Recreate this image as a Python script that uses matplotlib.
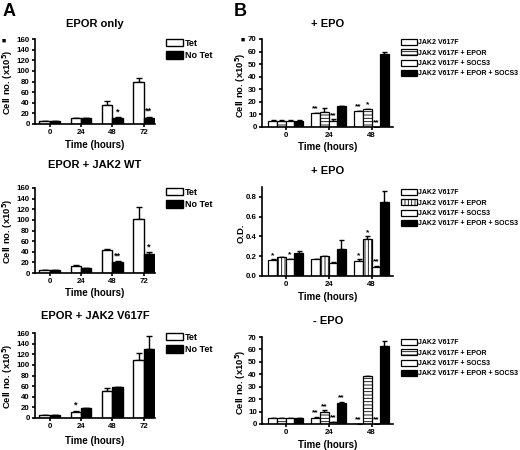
import matplotlib
matplotlib.use("Agg")
import matplotlib.pyplot as plt
import numpy as np

plt.rcParams['font.family'] = ['Liberation Sans', 'DejaVu Sans']
plt.rcParams['font.weight'] = 'bold'
plt.rcParams['hatch.linewidth'] = 0.6

# ---------------- data ----------------
a_times = ["0", "24", "48", "72"]
a_series = ["Tet", "No Tet"]
a_titles = ["EPOR only", "EPOR + JAK2 WT", "EPOR + JAK2 V617F"]

a1_tet = [5, 11, 35, 80]
a1_tet_err = [0.5, 1, 8, 7]
a1_notet = [5, 11, 11, 12]
a1_notet_err = [0.5, 0.5, 2, 2]

a2_tet = [5, 13, 44, 102]
a2_tet_err = [0.5, 2, 2, 22]
a2_notet = [5, 9, 21, 36]
a2_notet_err = [0.5, 0.5, 1, 3]

a3_tet = [5, 12, 51, 109]
a3_tet_err = [0.5, 2, 5, 14]
a3_notet = [5, 18, 58, 129]
a3_notet_err = [0.5, 1, 1, 25]

a1_stars = [[None, None, None, None], [None, None, "*", "**"]]
a2_stars = [[None, None, None, None], [None, None, "**", "*"]]
a3_stars = [[None, "*", None, None], [None, None, None, None]]

b_times = ["0", "24", "48"]
b_series = ["JAK2 V617F", "JAK2 V617F + EPOR", "JAK2 V617F + SOCS3", "JAK2 V617F + EPOR + SOCS3"]
b_titles = ["+ EPO", "+ EPO", "- EPO"]

b1_vals = [[5, 11, 12.5], [5, 12, 14], [5, 5, 0], [5, 16.5, 58]]
b1_err = [[0.3, 0.5, 0.5], [0.3, 3.5, 0.7], [0.3, 1.0, 0], [0.3, 0.3, 2]]
b1_stars = [[None, "**", "**"], [None, None, "*"], [None, "**", "**"], [None, None, None]]

b2_vals = [[0.16, 0.17, 0.15], [0.19, 0.20, 0.37], [0.17, 0.13, 0.09], [0.23, 0.27, 0.75]]
b2_err = [[0.01, 0.005, 0.02], [0.005, 0.005, 0.03], [0.005, 0.01, 0.01], [0.02, 0.09, 0.11]]
b2_stars = [["*", None, "*"], [None, None, "*"], ["*", None, "**"], [None, None, None]]

b3_vals = [[5, 5, 0], [5, 10, 38.5], [5, 1.5, 0], [5, 17, 63]]
b3_err = [[0.2, 0.5, 0], [0.2, 1.0, 0.5], [0.2, 0.3, 0], [0.2, 1.0, 4]]
b3_stars = [[None, "**", "**"], [None, "**", None], [None, "**", "**"], [None, "**", None]]

# ---------------- figure ----------------
W, H = 520, 450
fig = plt.figure(figsize=(W / 100, H / 100), dpi=100)


def px_axes(l, r, t, b):
    return fig.add_axes([l / W, 1 - b / H, (r - l) / W, (b - t) / H])


def ftext(x, y, s, **kw):
    fig.text(x / W, 1 - y / H, s, **kw)


def style_axes(ax):
    for s in ['top', 'right']:
        ax.spines[s].set_visible(False)
    for s in ['left', 'bottom']:
        ax.spines[s].set_linewidth(1.2)
    ax.tick_params(axis='both', direction='out', length=2.5, width=1.2, labelsize=5.7, pad=1.2)
    for lab in ax.get_xticklabels() + ax.get_yticklabels():
        lab.set_fontweight('bold')


# ---------- panel A ----------
a_data = [
    (a1_tet, a1_tet_err, a1_notet, a1_notet_err, a1_stars),
    (a2_tet, a2_tet_err, a2_notet, a2_notet_err, a2_stars),
    (a3_tet, a3_tet_err, a3_notet, a3_notet_err, a3_stars),
]
a_tops = [39, 188, 333]
a_bots = [124, 273, 418]
a_title_y = [24, 165, 316]
a_time_y = [145, 293, 441]
a_leg_y = [39, 188, 333]

for i in range(3):
    tet, tet_e, nt, nt_e, stars = a_data[i]
    ax = px_axes(35, 155, a_tops[i], a_bots[i])
    x = np.arange(len(a_times))
    w = 0.33
    vals = [tet, nt]
    errs = [tet_e, nt_e]
    colors = ['white', 'black']
    handles = []
    for k in range(2):
        xs = x + (k - 0.5) * w
        h = ax.bar(xs, vals[k], w, color=colors[k], edgecolor='black', linewidth=1.0,
                   label=a_series[k], zorder=2)
        handles.append(h)
        ax.errorbar(xs, vals[k], yerr=[np.zeros(len(xs)), errs[k]], fmt='none',
                    ecolor='black', elinewidth=1.0, capsize=2, capthick=1.0, zorder=1)
        for j in range(len(xs)):
            if stars[k][j]:
                ax.text(xs[j], vals[k][j] + errs[k][j] + 1, stars[k][j], ha='center',
                        va='bottom', fontsize=6.5, fontweight='bold')
    ax.set_xlim(-0.47, 3.36)
    ax.set_ylim(0, 160)
    ax.set_yticks(np.arange(0, 161, 20))
    ax.set_xticks(x)
    ax.set_xticklabels(a_times)
    style_axes(ax)
    leg = ax.legend(handles=handles, loc='upper left', bbox_to_anchor=(166 / W, 1 - a_leg_y[i] / H),
                    bbox_transform=fig.transFigure, frameon=False, fontsize=6.5,
                    handlelength=1.9, handleheight=0.85, handletextpad=0.2, labelspacing=0.35,
                    borderpad=0, borderaxespad=0)
    for t in leg.get_texts():
        t.set_fontweight('bold')
    ftext(95, a_title_y[i], a_titles[i], ha='center', va='center', fontsize=8, fontweight='bold')
    ftext(95, a_time_y[i], "Time (hours)", ha='center', va='center', fontsize=7, fontweight='bold')
    ftext(8, (a_tops[i] + a_bots[i]) / 2 + 1, r"Cell no. (x10$^{\mathbf{5}}$)", ha='center', va='center',
          rotation=90, fontsize=6.8, fontweight='bold')

# ---------- panel B ----------
b_data = [
    (b1_vals, b1_err, b1_stars, 70, 10, '-----', "Cell no. (x10$^{\\mathbf{5}}$)"),
    (b2_vals, b2_err, b2_stars, 0.9, 0.2, '|||||', "O.D."),
    (b3_vals, b3_err, b3_stars, 70, 10, '-----', "Cell no. (x10$^{\\mathbf{5}}$)"),
]
b_tops = [39, 187, 337]
b_bots = [127, 276, 424]
b_title_y = [24, 171, 321]
b_time_y = [147, 297, 445]
b_leg_y = [39, 189, 339]

for i in range(3):
    vals, errs, stars, ymax, step, hatch2, ylab = b_data[i]
    ax = px_axes(262, 393, b_tops[i], b_bots[i])
    x = np.arange(len(b_times))
    w = 0.2
    colors = ['white', 'white', 'white', 'black']
    hatches = [None, hatch2, None, None]
    handles = []
    for k in range(4):
        xs = x + (k - 1.5) * w
        h = ax.bar(xs, vals[k], w, color=colors[k], edgecolor='black', linewidth=0.9,
                   hatch=hatches[k], label=b_series[k], zorder=2)
        handles.append(h)
        ax.errorbar(xs, vals[k], yerr=[np.zeros(len(xs)), errs[k]], fmt='none',
                    ecolor='black', elinewidth=1.0, capsize=1.8, capthick=1.0, zorder=1)
        for j in range(len(xs)):
            if stars[k][j]:
                ax.text(xs[j], vals[k][j] + errs[k][j] + ymax * 0.005, stars[k][j], ha='center',
                        va='bottom', fontsize=6, fontweight='bold')
    ax.set_xlim(-0.55, 2.5)
    ax.set_ylim(0, ymax)
    if step == 0.2:
        ax.set_yticks(np.arange(0, 0.81, 0.2))
        ax.set_yticklabels(["0.0", "0.2", "0.4", "0.6", "0.8"])
    else:
        ax.set_yticks(np.arange(0, 71, 10))
    ax.set_xticks(x)
    ax.set_xticklabels(b_times)
    style_axes(ax)
    leg = ax.legend(handles=handles, loc='upper left', bbox_to_anchor=(401 / W, 1 - b_leg_y[i] / H),
                    bbox_transform=fig.transFigure, frameon=False, fontsize=5,
                    handlelength=2.3, handleheight=0.9, handletextpad=0.2, labelspacing=0.45,
                    borderpad=0, borderaxespad=0)
    for t in leg.get_texts():
        t.set_fontweight('bold')
    ftext(328, b_title_y[i], b_titles[i], ha='center', va='center', fontsize=8, fontweight='bold')
    ftext(328, b_time_y[i], "Time (hours)", ha='center', va='center', fontsize=7, fontweight='bold')
    ftext(241, (b_tops[i] + b_bots[i]) / 2 + 2, ylab, ha='center', va='center',
          rotation=90, fontsize=6.8, fontweight='bold')

# panel letters and small markers
ftext(3, 11, "A", ha='left', va='center', fontsize=13, fontweight='bold')
ftext(234, 11, "B", ha='left', va='center', fontsize=13, fontweight='bold')
ftext(4, 41, "\u25A0", ha='center', va='center', fontsize=5)
ftext(243, 40, "\u25A0", ha='center', va='center', fontsize=5)

fig.savefig("out.png", dpi=100)
